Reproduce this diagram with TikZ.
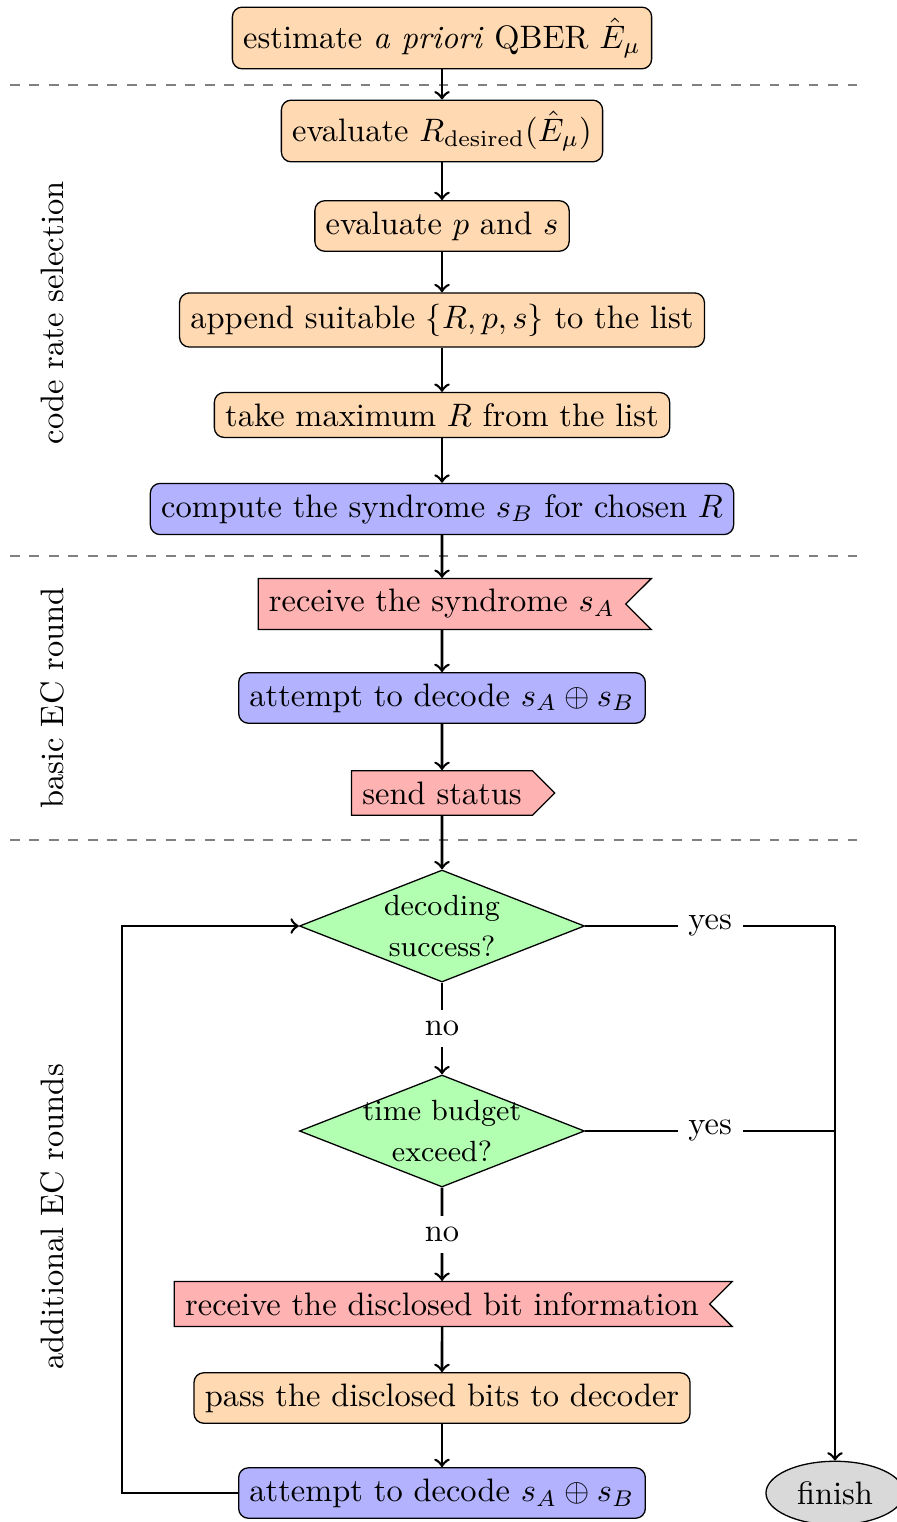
\documentclass[tikz,border=0pt]{standalone}
\usetikzlibrary{shapes.geometric,shapes.symbols}
\newcommand{\dline}[1]{\makebox[34pt][c]{#1}}
\begin{document}
\begin{tikzpicture}[x=0.308pt,y=-0.308pt,
  proc/.style={draw,rounded corners=3pt,fill=orange!30,inner sep=3.33pt},
  bproc/.style={draw,rounded corners=3pt,fill=blue!30,inner sep=3.33pt},
  recv/.style={draw,signal,signal to=nowhere,signal from=east,fill=red!30,inner sep=3.33pt},
  sendbox/.style={draw,signal,signal to=east,fill=red!30,inner sep=3.33pt},
  decide/.style={draw,diamond,aspect=2.5,inner sep=0pt,fill=green!30,font=\small,align=center,minimum width=87.8pt,minimum height=34.5pt},
  term/.style={draw,ellipse,fill=gray!30},
  conn/.style={->,thick},
  sep/.style={dashed,gray,semithick},
  lab/.style={fill=white}]
\useasboundingbox (0,0) rectangle (897,1522);
% separators
\coordinate (s1a) at (10,85);  \coordinate (s1b) at (865,85);
\coordinate (s2a) at (10,556); \coordinate (s2b) at (865,556);
\coordinate (s3a) at (10,840); \coordinate (s3b) at (865,840);
\draw[sep] (s1a) -- (s1b);
\draw[sep] (s2a) -- (s2b);
\draw[sep] (s3a) -- (s3b);
% side labels
\node[rotate=90] (l1) at (52,313) {code rate selection};
\node[rotate=90] (l2) at (52,698) {basic EC round};
\node[rotate=90] (l3) at (52,1217) {additional EC rounds};
% nodes
\node[proc] (n1) at (442,38) {estimate \textit{a priori} QBER $\hat{E}_\mu$};
\node[proc] (n2) at (442,131) {evaluate $R_{\mathrm{desired}}(\hat{E}_\mu)$};
\node[proc] (n3) at (442,226) {evaluate $p$ and $s$};
\node[proc] (n4) at (442,320) {append suitable $\{R,p,s\}$ to the list};
\node[proc] (n5) at (442,415) {take maximum $R$ from the list};
\node[bproc] (n6) at (442,509) {compute the syndrome $s_B$ for chosen $R$};
\node[recv] (n7) at (442,604) {receive the syndrome $s_A$};
\node[bproc] (n8) at (442,698) {attempt to decode $s_A \oplus s_B$};
\node[sendbox] (n9) at (442,793) {send status};
\node[decide] (d1) at (442,926) {\dline{decoding}\\[1.4pt]\dline{success?}};
\node[decide] (d2) at (442,1131) {\dline{time budget}\\[1.4pt]\dline{exceed?}};
\node[recv] (n10) at (442,1304) {receive the disclosed bit information};
\node[proc] (n11) at (442,1398) {pass the disclosed bits to decoder};
\node[bproc] (n12) at (442,1493) {attempt to decode $s_A \oplus s_B$};
\node[term] (fin) at (835,1493) {finish};
\coordinate (j1) at (835,926);
\coordinate (j2) at (835,1131);
\coordinate (lp) at (122,1493);
% connectors
\draw[conn] (n1) -- (n2);
\draw[conn] (n2) -- (n3);
\draw[conn] (n3) -- (n4);
\draw[conn] (n4) -- (n5);
\draw[conn] (n5) -- (n6);
\draw[conn] (n6) -- (n7);
\draw[conn] (n7) -- (n8);
\draw[conn] (n8) -- (n9);
\draw[conn] (n9) -- (d1);
\draw[conn] (d1) -- node[lab] {no} (d2);
\draw[conn] (d2) -- node[lab] {no} (n10);
\draw[conn] (n10) -- (n11);
\draw[conn] (n11) -- (n12);
\draw[thick] (d1.east) -- node[lab] {yes} (j1);
\draw[conn] (j1) -- (fin.north);
\draw[thick] (d2.east) -- node[lab] {yes} (j2);
\draw[conn] (n12.west) -- (lp) |- (d1.west);
\end{tikzpicture}
\end{document}
